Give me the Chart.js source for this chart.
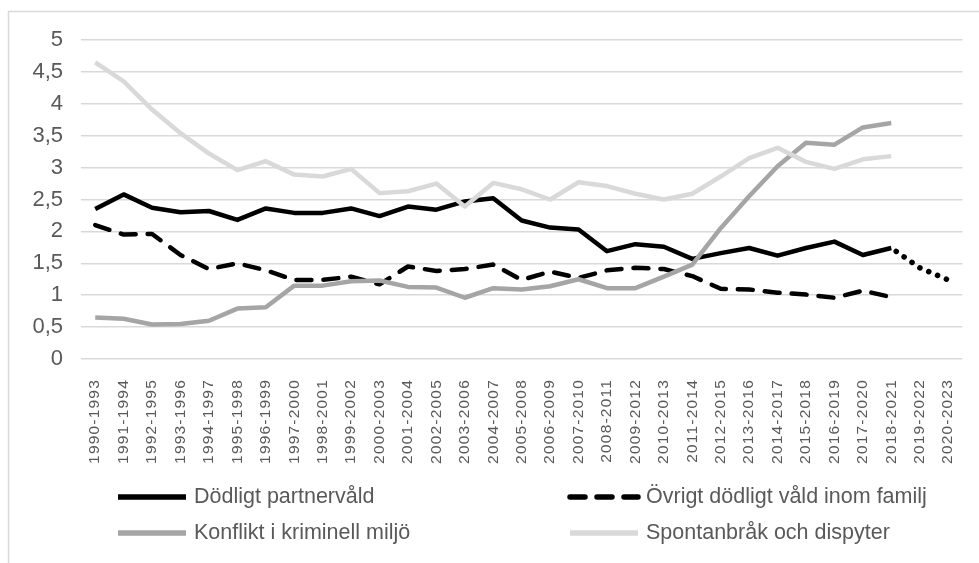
<!DOCTYPE html>
<html>
<head>
<meta charset="utf-8">
<script src="https://cdn.jsdelivr.net/npm/chart.js@4/dist/chart.umd.min.js"></script>
<style>
  html, body { margin: 0; padding: 0; background: #ffffff; }
  #wrap { width: 979px; height: 563px; position: relative; }
</style>
</head>
<body>
<div id="wrap"><canvas id="c"></canvas></div>
<script>
const categories = [
  "1990-1993","1991-1994","1992-1995","1993-1996","1994-1997","1995-1998","1996-1999",
  "1997-2000","1998-2001","1999-2002","2000-2003","2001-2004","2002-2005","2003-2006",
  "2004-2007","2005-2008","2006-2009","2007-2010","2008-2011","2009-2012","2010-2013",
  "2011-2014","2012-2015","2013-2016","2014-2017","2015-2018","2016-2019","2017-2020",
  "2018-2021","2019-2022","2020-2023"
];
const seriesNames = [
  "Dödligt partnervåld",
  "Övrigt dödligt våld inom familj",
  "Konflikt i kriminell miljö",
  "Spontanbråk och dispyter"
];
const partnerValues = [2.35, 2.58, 2.37, 2.30, 2.32, 2.18, 2.36, 2.29, 2.29, 2.36, 2.24, 2.39, 2.34, 2.47, 2.52,
  2.17, 2.06, 2.03, 1.69, 1.80, 1.76, 1.57, 1.66, 1.74, 1.62, 1.74, 1.84, 1.63, 1.74, 1.43, 1.24];
const familyValues = [2.10, 1.95, 1.96, 1.63, 1.41, 1.50, 1.39, 1.24, 1.24, 1.29, 1.17, 1.45, 1.38, 1.41, 1.48,
  1.24, 1.37, 1.27, 1.39, 1.43, 1.41, 1.30, 1.10, 1.09, 1.04, 1.01, 0.96, 1.07, 0.97, null, null];
const criminalValues = [0.65, 0.63, 0.54, 0.55, 0.60, 0.79, 0.81, 1.15, 1.15, 1.22, 1.23, 1.13, 1.12, 0.96, 1.11,
  1.09, 1.14, 1.25, 1.11, 1.11, 1.29, 1.48, 2.05, 2.55, 3.02, 3.39, 3.36, 3.63, 3.70, null, null];
const disputeValues = [4.65, 4.35, 3.91, 3.54, 3.22, 2.96, 3.10, 2.89, 2.86, 2.98, 2.60, 2.63, 2.75, 2.39, 2.76,
  2.66, 2.50, 2.77, 2.71, 2.59, 2.50, 2.59, 2.86, 3.15, 3.31, 3.09, 2.98, 3.13, 3.18, null, null];
const yTickValues = [0, 0.5, 1, 1.5, 2, 2.5, 3, 3.5, 4, 4.5, 5];
const dottedFromIndex = 28; // last measured point before the projection

const TEXT = '#595959';
const GRID = '#d9d9d9';
Chart.defaults.font.family = '"Liberation Sans", Arial, sans-serif';
Chart.defaults.color = TEXT;

const frameAndLegend = {
  id: 'frameAndLegend',
  beforeDraw(chart) {
    const s = chart.scales.x;
    if (s && !s.__ls) {
      const orig = s.drawLabels;
      s.drawLabels = function (a) {
        const c = this.ctx;
        c.save();
        c.letterSpacing = '1.2px';
        orig.call(this, a);
        c.restore();
      };
      s.__ls = true;
    }
    const ctx = chart.ctx;
    ctx.save();
    ctx.strokeStyle = GRID;
    ctx.lineWidth = 1.5;
    ctx.strokeRect(8.5, 11.5, 1100, 700);
    ctx.restore();
  },
  afterDraw(chart) {
    const ctx = chart.ctx;
    const pos = [[115, 497], [567, 497], [115, 533], [567, 533]];
    chart.data.datasets.forEach((ds, i) => {
      const [x, y] = pos[i];
      ctx.save();
      ctx.beginPath();
      ctx.strokeStyle = ds.borderColor;
      ctx.lineWidth = 5.5;
      ctx.lineCap = ds.borderCapStyle || 'butt';
      ctx.setLineDash(ds.borderDash || []);
      ctx.moveTo(x + 3, y);
      ctx.lineTo(x + 71, y);
      ctx.stroke();
      ctx.setLineDash([]);
      ctx.fillStyle = TEXT;
      ctx.font = '21.5px "Liberation Sans", Arial, sans-serif';
      ctx.textBaseline = 'middle';
      ctx.textAlign = 'left';
      ctx.fillText(ds.label, x + 79, y);
      ctx.restore();
    });
  }
};

new Chart(document.getElementById('c'), {
  type: 'line',
  data: {
    labels: categories,
    datasets: [
      {
        label: seriesNames[0], data: partnerValues, borderColor: '#000000',
        borderWidth: 4.5, borderCapStyle: 'butt', borderJoinStyle: 'round', order: 3,
        segment: {
          borderDash: ctx => ctx.p0DataIndex >= dottedFromIndex ? [0.1, 9.5] : undefined,
          borderDashOffset: ctx => ctx.p0DataIndex >= dottedFromIndex ? -6 : undefined,
          borderCapStyle: ctx => ctx.p0DataIndex >= dottedFromIndex ? 'round' : undefined,
          borderWidth: ctx => ctx.p0DataIndex >= dottedFromIndex ? 5.5 : undefined
        }
      },
      {
        label: seriesNames[1], data: familyValues, borderColor: '#000000',
        borderWidth: 4.5, borderDash: [15, 12], borderCapStyle: 'round', borderJoinStyle: 'round', order: 2
      },
      {
        label: seriesNames[2], data: criminalValues, borderColor: '#a5a5a5',
        borderWidth: 4.5, borderJoinStyle: 'round', order: 1
      },
      {
        label: seriesNames[3], data: disputeValues, borderColor: '#d9d9d9',
        borderWidth: 4.5, borderJoinStyle: 'round', order: 0
      }
    ]
  },
  options: {
    responsive: true,
    maintainAspectRatio: false,
    animation: false,
    elements: { point: { radius: 0, hoverRadius: 0 }, line: { tension: 0 } },
    layout: { padding: { left: 0, right: 15, top: 40, bottom: 94 } },
    plugins: { legend: { display: false }, tooltip: { enabled: false } },
    scales: {
      x: {
        offset: true,
        grid: { display: false },
        border: { display: false },
        ticks: {
          autoSkip: false, maxRotation: 90, minRotation: 90,
          padding: 12, color: TEXT, font: { size: 15.5 }
        },
        afterFit(scale) { scale.height = 110; }
      },
      y: {
        min: 0, max: 5,
        grid: { color: GRID, lineWidth: 1.5, drawTicks: false },
        border: { display: false },
        afterBuildTicks(scale) { scale.ticks = yTickValues.map(v => ({ value: v })); },
        ticks: {
          padding: 18, color: TEXT, font: { size: 22 },
          callback: v => String(v).replace('.', ',')
        },
        afterFit(scale) { scale.width = 81; }
      }
    }
  },
  plugins: [frameAndLegend]
});
</script>
</body>
</html>
